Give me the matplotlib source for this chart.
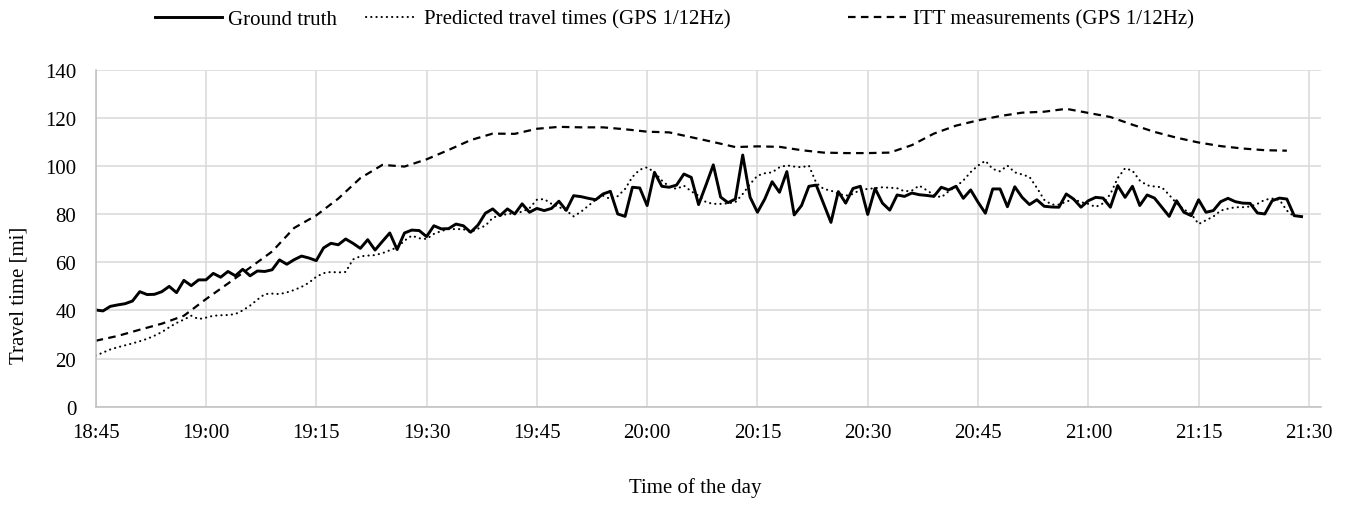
import numpy as np
import matplotlib
matplotlib.use("Agg")
import matplotlib.pyplot as plt
from matplotlib.ticker import FuncFormatter

plt.rcParams['font.family'] = ['Liberation Serif', 'DejaVu Serif']

# minutes after 18:45, one sample per minute
start_min = 18 * 60 + 45
ground_truth = [
    40.2, 39.8, 41.7, 42.3, 42.8, 43.9, 47.8, 46.6, 46.7, 47.8,
    50.0, 47.4, 52.5, 50.3, 52.7, 52.7, 55.4, 53.8, 56.2, 54.4,
    57.1, 54.4, 56.4, 56.2, 56.9, 61.0, 59.2, 61.1, 62.6, 61.8,
    60.7, 66.0, 67.9, 67.3, 69.7, 67.9, 65.8, 69.4, 65.1, 68.7,
    72.2, 65.3, 72.2, 73.4, 73.2, 70.7, 75.2, 73.9, 74.0, 75.9,
    75.2, 72.5, 75.5, 80.4, 82.2, 79.4, 82.2, 80.1, 84.3, 80.8,
    82.4, 81.5, 82.4, 85.4, 81.6, 87.7, 87.3, 86.6, 86.0, 88.4,
    89.5, 80.1, 79.1, 91.2, 90.9, 83.6, 97.4, 91.6, 91.2, 92.1,
    96.7, 95.3, 84.0, 92.1, 100.5, 87.1, 84.8, 86.3, 104.6, 87.1,
    80.8, 86.3, 93.5, 89.1, 97.7, 79.7, 83.6, 91.6, 92.1, 84.3,
    76.6, 89.4, 84.6, 90.7, 91.6, 79.9, 90.7, 84.6, 81.7, 88.0,
    87.4, 88.8, 88.1, 87.8, 87.4, 91.2, 90.1, 91.6, 86.6, 90.1,
    85.0, 80.4, 90.5, 90.5, 83.1, 91.4, 87.0, 84.0, 86.0, 83.3,
    83.0, 82.9, 88.4, 86.3, 82.9, 85.6, 87.0, 86.7, 82.9, 91.9,
    87.0, 91.6, 83.6, 88.0, 86.7, 82.9, 79.1, 85.6, 80.8, 79.4,
    86.0, 80.8, 81.5, 85.2, 86.6, 85.2, 84.6, 84.5, 80.5, 80.1,
    85.6, 86.7, 86.3, 79.4, 79.0,
]
predicted = [
    21.2, 22.5, 23.8, 24.7, 25.5, 26.3, 27.2, 28.2, 29.5, 31.0,
    33.0, 34.8, 36.2, 37.8, 36.4, 37.0, 37.8, 38.0, 38.1, 38.5,
    40.0, 42.0, 44.5, 46.8, 47.0, 46.8, 47.5, 48.5, 49.8, 51.5,
    54.0, 55.5, 56.0, 55.8, 56.0, 61.2, 62.5, 62.8, 63.0, 63.8,
    65.0, 66.2, 69.0, 71.1, 70.0, 69.7, 71.8, 73.0, 73.8, 73.8,
    73.8, 72.5, 74.0, 75.2, 78.5, 79.6, 80.0, 80.5, 81.0, 82.5,
    86.0, 86.3, 84.3, 83.0, 81.5, 79.1, 81.0, 83.5, 86.0, 87.7,
    86.3, 87.5, 90.5, 95.5, 98.5, 99.5, 97.4, 94.0, 91.5, 90.5,
    91.9, 89.5, 87.7, 85.0, 84.3, 84.3, 84.5, 85.0, 88.4, 92.5,
    96.0, 97.0, 97.4, 99.5, 100.3, 99.8, 99.5, 100.2, 93.0, 90.5,
    89.8, 88.5, 87.7, 88.4, 90.2, 90.5, 90.8, 91.2, 91.0, 90.8,
    89.5, 89.8, 91.9, 90.0, 88.0, 87.0, 89.5, 91.5, 94.0, 97.5,
    100.2, 102.2, 98.8, 97.8, 100.2, 97.4, 96.5, 95.5, 91.0, 86.0,
    84.0, 84.0, 85.2, 86.3, 85.0, 84.3, 83.0, 84.5, 88.4, 95.0,
    99.1, 98.1, 94.0, 92.0, 91.5, 91.2, 88.0, 84.5, 82.0, 80.1,
    75.9, 77.5, 79.0, 81.5, 82.3, 82.9, 82.9, 83.2, 84.3, 86.0,
    86.5, 86.0, 81.5, 79.0,
]
# ITT read every 3 minutes
itt_offsets = list(range(0, 163, 3))
itt = [
    27.4, 29.4, 32.0, 34.5, 37.8, 44.7, 51.2, 57.8, 64.5, 74.3,
    79.5, 86.5, 95.0, 100.5, 99.8, 102.8, 106.7, 110.8, 113.5, 113.4,
    115.5, 116.3, 116.1, 116.1, 115.3, 114.3, 114.0, 112.0, 110.0, 107.9,
    108.2, 108.0, 106.6, 105.6, 105.4, 105.4, 105.6, 108.7, 113.5, 116.8,
    119.0, 120.8, 122.2, 122.6, 123.8, 122.1, 120.4, 117.2, 114.2, 111.8,
    109.8, 108.3, 107.3, 106.6, 106.4,
]
tick_offsets = list(range(0, 166, 15))

t_gt = start_min + np.arange(len(ground_truth))
t_pred = start_min + np.arange(len(predicted))
t_itt = start_min + np.array(itt_offsets)

W, H = 1349, 506
fig = plt.figure(figsize=(W / 100, H / 100), dpi=100)
ax = fig.add_axes([0.0709, 0.1943, 0.979 - 0.0709, 0.860 - 0.1943])

h_gt, = ax.plot(t_gt, ground_truth, color='black', lw=2.1, label='Ground truth')
h_pred, = ax.plot(t_pred, predicted, color='black', lw=1.5, linestyle=(0, (0.1, 2.4)),
                  dash_capstyle='round', label='Predicted travel times (GPS 1/12Hz)')
h_itt, = ax.plot(t_itt, itt, color='black', lw=1.6, linestyle=(0, (3.4, 2.4)),
                 label='ITT measurements (GPS 1/12Hz)')

ax.set_xlim(start_min, start_min + 166.6)
ax.set_ylim(0, 140)
ax.set_xticks([start_min + m for m in tick_offsets])
ax.xaxis.set_major_formatter(FuncFormatter(lambda v, p: f"{int(round(v)) // 60}:{int(round(v)) % 60:02d}"))
ax.set_yticks(range(0, 141, 20))
ax.grid(True, color='#d9d9d9', lw=1.1)
ax.set_axisbelow(True)
for s in ['top', 'right']:
    ax.spines[s].set_visible(False)
for s in ['left', 'bottom']:
    ax.spines[s].set_color('#bfbfbf')
    ax.spines[s].set_linewidth(1.1)
ax.tick_params(length=0, labelsize=15, colors='black')
ax.tick_params(axis='x', pad=12)
ax.tick_params(axis='y', pad=14)

fig.text(0.014, 1 - 295 / H, 'Travel time [mi]', rotation=90, ha='center', va='center', fontsize=15)
fig.text(695 / W, 1 - 488 / H, 'Time of the day', ha='center', va='center', fontsize=15)

# one legend per entry so each sits where it does in the original
for h, x_px, hl in [(h_gt, 155, 3.2), (h_pred, 366, 2.5), (h_itt, 848, 2.8)]:
    fig.legend(handles=[h], loc='center left', bbox_to_anchor=(x_px / W, 1 - 20 / H),
               frameon=False, fontsize=15, handlelength=hl, handletextpad=0.3,
               borderpad=0, borderaxespad=0)

fig.savefig('out.png', dpi=100)
